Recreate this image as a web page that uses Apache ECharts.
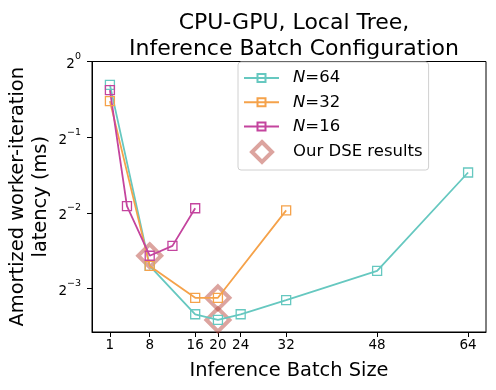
<!DOCTYPE html>
<html>
<head>
<meta charset="utf-8">
<script src="https://cdn.jsdelivr.net/npm/echarts@6/dist/echarts.min.js"></script>
<style>html,body{margin:0;padding:0;background:#fff;}#c{width:496px;height:390px;}</style>
</head>
<body>
<div id="c"></div>
<script>
const batchN64 = [1, 8, 16, 20, 24, 32, 48, 64];
const latN64 = [0.807, 0.154, 0.0989, 0.0939, 0.0989, 0.1126, 0.147, 0.362];
const batchN32 = [1, 8, 16, 20, 32];
const latN32 = [0.696, 0.154, 0.115, 0.115, 0.256];
const batchN16 = [1, 4, 8, 12, 16];
const latN16 = [0.770, 0.266, 0.169, 0.185, 0.261];
const dseBatch = [8, 20, 20];
const dseLat = [0.169, 0.115, 0.0939];
const xTicks = [1, 8, 16, 20, 24, 32, 48, 64];
const yTicks = [0.125, 0.25, 0.5, 1];
const seriesNames = ['N=64', 'N=32', 'N=16', 'Our DSE results'];

const FONT = 'DejaVu Sans';
const cTeal = '#66c8c0', cOrange = '#f5a24a', cMag = '#c4449e', cDse = 'rgba(185,70,60,0.62)';

function pairs(xs, ys) { return xs.map((x, i) => [x, ys[i]]); }
function lineSeries(name, xs, ys, color) {
  return {
    name: name, type: 'line', data: pairs(xs, ys), z: 3,
    symbol: 'rect', symbolSize: 9,
    lineStyle: { color: color, width: 1.8 },
    itemStyle: { color: 'rgba(255,255,255,0)', borderColor: color, borderWidth: 1.3 },
    emphasis: { disabled: true }
  };
}
const chart = echarts.init(document.getElementById('c'), null, { renderer: 'canvas' });
function legendText(padLeft) {
  return {
    fontFamily: FONT, fontSize: 16.5, color: '#000', lineHeight: 18, padding: [0, 0, 0, padLeft],
    rich: { i: { fontFamily: FONT, fontSize: 16.5, fontStyle: 'italic', lineHeight: 18 } }
  };
}
function legendFmt(name) {
  if (name.startsWith('N=')) return '{i|N}=' + name.slice(2);
  return name;
}
chart.setOption({
  animation: false,
  backgroundColor: '#fff',
  title: {
    text: 'CPU-GPU, Local Tree,\nInference Batch Configuration',
    left: 289, textAlign: 'center', top: 5,
    textStyle: { fontFamily: FONT, fontSize: 22, fontWeight: 'normal', color: '#000', lineHeight: 26.5 }
  },
  grid: { left: 92, top: 61.5, right: 10, bottom: 58, show: true, borderColor: '#000', borderWidth: 1,
          backgroundColor: 'transparent', containLabel: false, outerBoundsMode: 'none' },
  legend: [
    {
      data: [{ name: seriesNames[3], icon: 'diamond',
               itemStyle: { color: 'rgba(255,255,255,0)', borderColor: cDse, borderWidth: 4 } }],
      orient: 'vertical', left: 238, top: 62,
      padding: [78, 6, 6, 12], itemWidth: 20, itemHeight: 20, itemGap: 0, symbolKeepAspect: true,
      backgroundColor: '#fff', borderColor: '#d0d0d0', borderWidth: 1, borderRadius: 3,
      selectedMode: false, textStyle: legendText(16), formatter: legendFmt, z: 4
    },
    {
      data: seriesNames.slice(0, 3), orient: 'vertical', left: 238, top: 69,
      padding: [0, 0, 0, 5], itemWidth: 35, itemHeight: 10, itemGap: 6.3,
      selectedMode: false, textStyle: legendText(9), formatter: legendFmt, z: 5
    }
  ],
  xAxis: {
    type: 'value', min: -2.15, max: 67.15,
    name: 'Inference Batch Size', nameLocation: 'middle', nameGap: 29, nameMoveOverlap: false,
    nameTextStyle: { fontFamily: FONT, fontSize: 19.4, color: '#000' },
    axisLine: { show: true, onZero: false, lineStyle: { color: '#000', width: 1 } },
    axisTick: { show: true, inside: false, length: 5, customValues: xTicks, lineStyle: { color: '#000', width: 1 } },
    axisLabel: { customValues: xTicks, margin: 6, fontFamily: FONT, fontSize: 13.5, color: '#000' },
    splitLine: { show: false }
  },
  yAxis: {
    type: 'log', logBase: 2, min: Math.pow(2, -3.572), max: 1,
    name: 'Amortized worker-iteration\nlatency (ms)', nameLocation: 'middle', nameGap: 40, nameRotate: 90,
    nameMoveOverlap: false,
    nameTextStyle: { fontFamily: FONT, fontSize: 19.4, color: '#000', lineHeight: 23 },
    axisLine: { show: true, onZero: false, lineStyle: { color: '#000', width: 1 } },
    axisTick: { show: true, inside: false, length: 5, customValues: yTicks, lineStyle: { color: '#000', width: 1 } },
    axisLabel: {
      customValues: yTicks, margin: 11,
      formatter: function (v) {
        const e = Math.round(Math.log2(v));
        return '{b|2}{s|' + (e < 0 ? '\u2212' + (-e) : e) + '}';
      },
      rich: {
        b: { fontFamily: FONT, fontSize: 13.5, color: '#000', verticalAlign: 'bottom', lineHeight: 20 },
        s: { fontFamily: FONT, fontSize: 9.5, color: '#000', verticalAlign: 'top', lineHeight: 12 }
      }
    },
    splitLine: { show: false }
  },
  series: [
    lineSeries(seriesNames[0], batchN64, latN64, cTeal),
    lineSeries(seriesNames[1], batchN32, latN32, cOrange),
    lineSeries(seriesNames[2], batchN16, latN16, cMag),
    {
      name: seriesNames[3], type: 'scatter', data: pairs(dseBatch, dseLat), z: 2,
      symbol: 'diamond', symbolSize: 23,
      itemStyle: { color: 'rgba(255,255,255,0)', borderColor: cDse, borderWidth: 4 },
      emphasis: { disabled: true }
    }
  ]
});
</script>
</body>
</html>
